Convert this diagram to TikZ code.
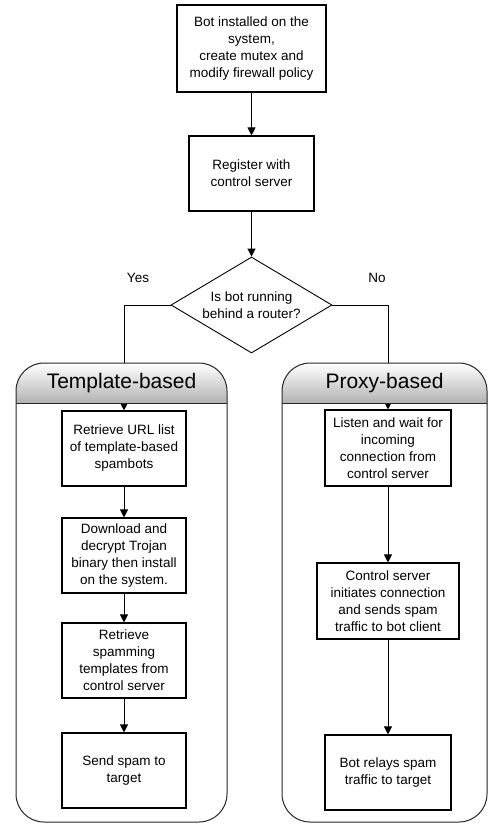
\documentclass[tikz,border=0pt]{standalone}
\usepackage{fontspec}
\setmainfont{Liberation Sans}
\usetikzlibrary{shapes.geometric,arrows.meta}
\tikzset{
  stepbox/.style={draw=black, line width=1.1pt, fill=white, align=center, inner sep=0pt,
    font=\fontsize{13.5}{17}\selectfont},
  decide/.style={draw=black, line width=0.9pt, shape=diamond, aspect=1.68, inner sep=0pt,
    align=center, font=\fontsize{13.5}{17}\selectfont},
  flow/.style={draw=black, line width=1pt, -{Triangle[length=8pt,width=8pt]}},
  lane/.style={draw=black!85, line width=1pt},
  headshade/.style={top color=white, bottom color=black!30},
  lanetitle/.style={font=\fontsize{21}{24}\selectfont, inner sep=0pt},
  lbl/.style={font=\fontsize{13.5}{15}\selectfont, inner sep=0pt}
}
\begin{document}
\begin{tikzpicture}[x=1pt,y=-1pt]
\useasboundingbox (0,0) rectangle (498,827);
% main flow
\node[stepbox, minimum width=149pt, minimum height=87pt] (b1) at (251.5,48.5)
  {Bot installed on the\\system,\\create mutex and\\modify firewall policy};
\node[stepbox, minimum width=125pt, minimum height=75pt] (b2) at (251.5,173.5)
  {Register with\\control server};
\node[decide, minimum width=161pt, minimum height=96pt] (dia) at (251.5,305)
  {Is bot running\\behind a router?};
\node[lbl] (yes) at (138,278) {Yes};
\node[lbl] (no) at (377,278) {No};
% template-based lane
\node[stepbox, minimum width=124pt, minimum height=75pt] (ta) at (124,448.5)
  {Retrieve URL list\\of template-based\\spambots};
\node[stepbox, minimum width=124pt, minimum height=75pt] (tb) at (124,555.5)
  {Download and\\decrypt Trojan\\binary then install\\on the system.};
\node[stepbox, minimum width=124pt, minimum height=75pt] (tc) at (124,660.5)
  {Retrieve\\spamming\\templates from\\control server};
\node[stepbox, minimum width=124pt, minimum height=75pt] (td) at (124,770.5)
  {Send spam to\\target};
% proxy-based lane
\node[stepbox, minimum width=126pt, minimum height=76pt] (pa) at (388,448)
  {Listen and wait for\\incoming\\connection from\\control server};
\node[stepbox, minimum width=142pt, minimum height=76pt] (pb) at (388,601)
  {Control server\\initiates connection\\and sends spam\\traffic to bot client};
\node[stepbox, minimum width=126pt, minimum height=75pt] (pc) at (388,772.5)
  {Bot relays spam\\traffic to target};
% connectors
\draw[flow] (b1) -- (b2);
\draw[flow] (b2) -- (dia);
\draw[flow] (dia.west) -| (ta.north);
\draw[flow] (dia.east) -| (pa.north);
\draw[flow] (ta) -- (tb);
\draw[flow] (tb) -- (tc);
\draw[flow] (tc) -- (td);
\draw[flow] (pa) -- (pb);
\draw[flow] (pb) -- (pc);
% lane headers (drawn over connectors)
\shade[headshade]
  (16,403) -- (16,391) .. controls (16,375.5) and (28.5,363) .. (44,363)
  -- (199,363) .. controls (214.5,363) and (227,375.5) .. (227,391) -- (227,403) -- cycle;
\shade[headshade]
  (282,403) -- (282,391) .. controls (282,375.5) and (294.5,363) .. (310,363)
  -- (459,363) .. controls (474.5,363) and (487,375.5) .. (487,391) -- (487,403) -- cycle;
\draw[lane, rounded corners=28pt] (16,363) rectangle (227,822);
\draw[lane] (16,403) -- (227,403);
\draw[lane, rounded corners=28pt] (282,363) rectangle (487,822);
\draw[lane] (282,403) -- (487,403);
\node[lanetitle] (tt) at (121.5,383) {Template-based};
\node[lanetitle] (pt) at (384.5,383) {Proxy-based};
\end{tikzpicture}
\end{document}
